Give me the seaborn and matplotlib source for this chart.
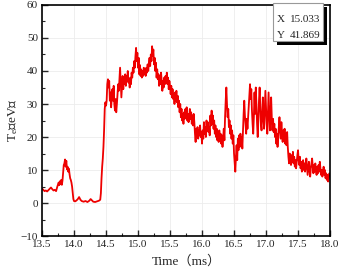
import matplotlib
matplotlib.use("Agg")
import matplotlib.pyplot as plt
from matplotlib.patches import Rectangle
from matplotlib.ticker import MultipleLocator, AutoMinorLocator
import seaborn as sns

# time (ms) and electron temperature (eV)
t_ms = [13.50, 13.52, 13.54, 13.56, 13.58, 13.60, 13.62, 13.64, 13.66, 13.68,
        13.70, 13.72, 13.74, 13.76, 13.77, 13.78, 13.79, 13.80, 13.81, 13.82,
        13.83, 13.84, 13.85, 13.86, 13.87, 13.88, 13.89, 13.90, 13.91, 13.92,
        13.93, 13.94, 13.95, 13.96, 13.97, 13.98, 13.99, 14.00, 14.02, 14.04,
        14.06, 14.08, 14.10, 14.12, 14.15, 14.18, 14.21, 14.24, 14.26, 14.28,
        14.30, 14.33, 14.36, 14.39, 14.41, 14.42, 14.43, 14.44, 14.45, 14.46,
        14.47, 14.48, 14.49]
te_ev = [4.4, 4.0, 3.6, 3.8, 3.5, 3.9, 4.3, 4.7, 4.2, 3.8,
         4.0, 3.6, 5.0, 6.2, 5.4, 6.6, 5.8, 7.0, 5.5, 6.8,
         9.0, 11.5, 12.0, 13.2, 11.0, 12.8, 10.2, 11.0, 9.5, 10.4,
         8.8, 7.5, 7.0, 6.2, 5.0, 3.0, 1.2, 0.6, 0.5, 0.8,
         1.2, 1.8, 1.0, 0.6, 0.4, 0.6, 0.3, 0.7, 1.2, 0.8,
         0.4, 0.3, 0.5, 0.7, 1.0, 3.0, 7.5, 11.0, 13.5, 17.0,
         22.0, 28.5, 30.5]

# from 14.50 ms on the trace is sampled every 0.01 ms
te_late = [
    29.5, 31.0, 36.0, 37.5, 35.0, 37.0, 31.0, 33.5, 29.0, 32.0,
    34.5, 31.0, 35.5, 30.0, 28.0, 31.5, 27.5, 30.0, 33.0, 36.0,
    34.0, 37.5, 41.0, 36.5, 32.0, 35.0, 38.5, 34.5, 38.0, 36.0,
    39.0, 35.5, 38.5, 37.0, 40.0, 36.5, 37.5, 35.0, 38.0, 36.0,
    39.5, 38.0, 41.0, 39.5, 43.0, 41.0, 44.5, 47.0, 43.0, 45.5,
    41.0, 44.0, 39.0, 41.8, 38.5, 40.5, 38.0, 40.0, 38.5, 41.0,
    39.0, 40.5, 38.5, 41.0, 39.5, 42.0, 40.0, 42.5, 44.0, 41.5,
    45.0, 43.0, 47.5, 44.5, 46.5, 42.0, 44.0, 40.0, 42.5, 38.0,
    40.5, 37.5, 39.0, 35.5, 38.5, 36.0, 39.5, 37.0, 34.0, 37.0,
    35.0, 38.0, 36.0, 38.5, 36.5, 39.5, 36.0, 38.0, 34.5, 37.0,
    35.5, 33.0, 35.5, 32.0, 34.5, 31.5, 33.0, 30.0, 33.5, 31.0,
    34.0, 30.5, 32.5, 29.0, 31.0, 27.5, 30.0, 26.0, 28.5, 25.0,
    27.0, 24.0, 27.5, 25.5, 28.5, 26.5, 29.0, 25.0, 27.0, 24.5,
    26.0, 28.5, 25.5, 27.5, 24.0, 26.5, 23.5, 27.0, 24.5, 21.0,
    18.5, 22.5, 20.0, 23.0, 19.5, 22.0, 20.5, 23.5, 20.0, 21.5,
    18.0, 22.0, 19.5, 24.5, 21.0, 23.0, 20.0, 25.0, 22.0, 24.5,
    21.5, 23.0, 20.5, 26.5, 23.5, 28.0, 24.0, 26.5, 22.5, 25.0,
    21.0, 23.5, 20.0, 22.5, 19.0, 21.5, 18.5, 22.0, 19.5, 21.0,
    18.0, 20.5, 17.0, 19.5, 22.5, 19.0, 26.0, 31.0, 35.0, 30.0,
    26.0, 28.5, 23.0, 25.0, 21.0, 23.5, 19.5, 22.0, 18.0, 20.5,
    15.0, 12.0, 9.5, 14.0, 17.5, 13.0, 19.5, 16.0, 20.5, 17.0,
    21.0, 18.5, 20.0, 16.5, 22.0, 27.0, 31.0, 26.5, 24.0, 21.0,
    25.5, 22.5, 26.0, 29.5, 33.0, 36.0, 31.5, 34.5, 28.0, 24.0,
    21.0, 26.0, 33.5, 27.0, 35.0, 30.0, 24.0, 20.0, 25.0, 31.0,
    35.0, 29.0, 24.0, 22.0, 27.0, 32.0, 26.0, 22.5, 28.0, 34.0,
    29.0, 24.0, 21.0, 27.0, 33.5, 27.5, 22.0, 26.0, 32.0, 26.0,
    22.0, 25.5, 21.5, 24.0, 20.0, 22.5, 18.0, 21.0, 17.0, 20.0,
    23.5, 26.0, 22.0, 19.5, 24.5, 21.0, 18.5, 22.0, 19.5, 22.5,
    18.0, 21.0, 17.5, 21.5, 17.0, 14.0, 12.0, 15.0, 13.5, 11.5,
    14.5, 12.5, 15.5, 12.0, 14.0, 11.0, 13.0, 10.5, 12.5, 14.5,
    16.0, 13.0, 11.5, 14.0, 10.5, 12.5, 9.5, 11.5, 13.0, 10.0,
    12.0, 9.5, 11.0, 13.5, 11.0, 8.5, 10.5, 12.5, 10.0, 8.0,
    10.5, 12.0, 13.5, 11.0, 9.0, 11.5, 9.5, 12.0, 10.0, 8.5,
    11.0, 9.0, 11.5, 9.5, 12.5, 10.5, 8.5, 10.0, 8.0, 9.5,
    11.0, 8.5, 10.0, 7.5, 9.0, 7.0, 8.5, 6.5, 7.5, 9.0,
    8.5]
t_late = [round(14.50 + 0.01 * i, 2) for i in range(len(te_late))]

time = t_ms + t_late
te = te_ev + te_late

sns.set_theme(style="ticks")
plt.rcParams['font.family'] = ['Liberation Serif', 'Noto Sans CJK SC', 'DejaVu Sans']
plt.rcParams['mathtext.fontset'] = 'custom'
plt.rcParams['mathtext.rm'] = 'Liberation Serif'
plt.rcParams['mathtext.it'] = 'Liberation Serif'

fig = plt.figure(figsize=(3.42, 2.73), dpi=100)
ax = fig.add_axes([0.1228, 0.1355, 0.8422, 0.8462])

sns.lineplot(x=time, y=te, ax=ax, color='#ee0000', linewidth=1.3, sort=False)

ax.set_xlim(13.5, 18.0)
ax.set_ylim(-10, 60)
ax.xaxis.set_major_locator(MultipleLocator(0.5))
ax.yaxis.set_major_locator(MultipleLocator(10))
ax.xaxis.set_minor_locator(AutoMinorLocator(2))
ax.yaxis.set_minor_locator(AutoMinorLocator(2))
ax.xaxis.set_major_formatter(plt.FormatStrFormatter('%.1f'))
ax.grid(True, which='major', color='#ececec', linewidth=0.6)
ax.tick_params(which='major', direction='in', length=4, width=1, labelsize=8, pad=3)
ax.tick_params(which='minor', direction='in', length=2, width=0.8)
for s in ax.spines.values():
    s.set_linewidth(1.2)
    s.set_color('black')

ax.set_xlabel('Time（ms）', fontsize=9.5, labelpad=4)
ax.set_ylabel('T$_\\mathrm{e}$（eV）', fontsize=9.5)
ax.yaxis.set_label_coords(-0.075, 0.5)

# data-reader box in the corner
shadow = Rectangle((276.5, 228.5), 50, 38, transform=None, facecolor='black',
                   edgecolor='none', zorder=5)
box = Rectangle((273, 232), 50, 38, transform=None, facecolor='white',
                edgecolor='#999999', linewidth=0.8, zorder=6)
fig.add_artist(shadow)
fig.add_artist(box)
fig.text(277 / 342, 1 - 19 / 273, 'X', fontsize=8, va='center', ha='left', zorder=7)
fig.text(320 / 342, 1 - 19 / 273, '15.033', fontsize=8, va='center', ha='right', zorder=7)
fig.text(277 / 342, 1 - 36 / 273, 'Y', fontsize=8, va='center', ha='left', zorder=7)
fig.text(320 / 342, 1 - 36 / 273, '41.869', fontsize=8, va='center', ha='right', zorder=7)

fig.savefig('out.png', dpi=100)
